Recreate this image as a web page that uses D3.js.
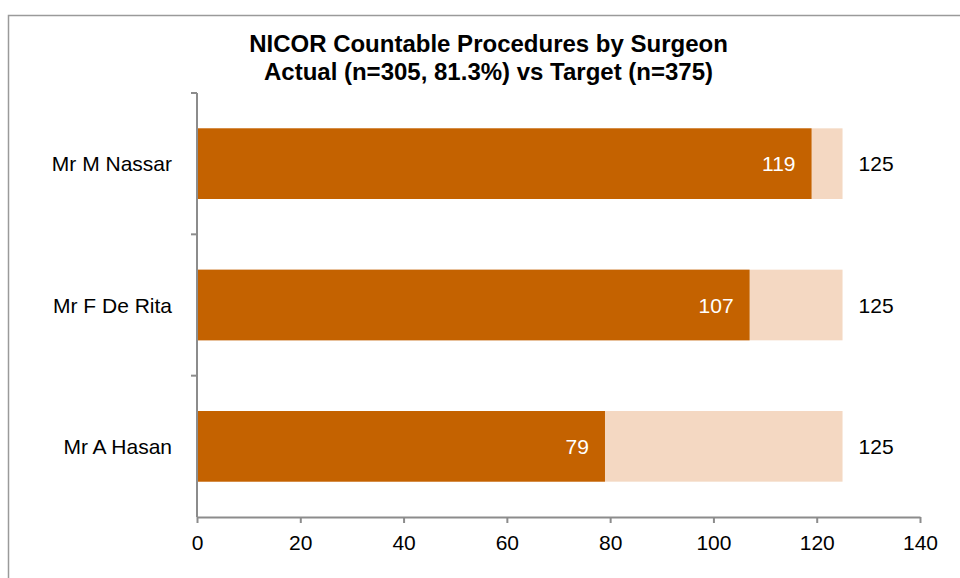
<!DOCTYPE html>
<html>
<head>
<meta charset="utf-8">
<script src="https://cdn.jsdelivr.net/npm/d3@7"></script>
<style>
  body { margin: 0; background: #fff; }
  svg { display: block; font-family: Arial, "Liberation Sans", sans-serif; }
</style>
</head>
<body>
<svg id="chart" width="960" height="578"></svg>
<script>
const surgeons = ["Mr M Nassar", "Mr F De Rita", "Mr A Hasan"];
const actual = [119, 107, 79];
const target = [125, 125, 125];
const xTicks = [0, 20, 40, 60, 80, 100, 120, 140];
const titleLines = ["NICOR Countable Procedures by Surgeon", "Actual (n=305, 81.3%) vs Target (n=375)"];

const svg = d3.select("#chart");
const axisColor = "#8c8c8c";

// outer frame
svg.append("rect").attr("x", 8.5).attr("y", 15.5).attr("width", 1000).attr("height", 700)
  .attr("fill", "none").attr("stroke", "#9a9a9a").attr("stroke-width", 1.5);

const plotLeft = 197, plotRight = 920, plotTop = 93, plotBottom = 517;
const x = d3.scaleLinear().domain([0, 140]).range([plotLeft, plotRight]);
const y = d3.scaleBand().domain(surgeons).range([plotTop, plotBottom]).paddingInner(0.5).paddingOuter(0.25);

// title
svg.append("g").selectAll("text").data(titleLines).join("text")
  .attr("x", 488.5).attr("y", (d, i) => 52 + i * 28)
  .attr("text-anchor", "middle").attr("font-weight", "bold").attr("font-size", 24)
  .attr("fill", "#000").text(d => d);

// target bars
svg.append("g").selectAll("rect").data(surgeons).join("rect")
  .attr("x", x(0)).attr("y", d => y(d))
  .attr("width", (d, i) => x(target[i]) - x(0)).attr("height", y.bandwidth())
  .attr("fill", "#F4D8C2");

// actual bars
svg.append("g").selectAll("rect").data(surgeons).join("rect")
  .attr("x", x(0)).attr("y", d => y(d))
  .attr("width", (d, i) => x(actual[i]) - x(0)).attr("height", y.bandwidth())
  .attr("fill", "#C46200");

// actual labels (inside end)
svg.append("g").selectAll("text").data(surgeons).join("text")
  .attr("x", (d, i) => x(actual[i]) - 16)
  .attr("y", d => y(d) + y.bandwidth() / 2).attr("dy", "0.36em")
  .attr("text-anchor", "end").attr("font-size", 21).attr("fill", "#fff")
  .text((d, i) => actual[i]);

// target labels (outside end)
svg.append("g").selectAll("text").data(surgeons).join("text")
  .attr("x", (d, i) => x(target[i]) + 16)
  .attr("y", d => y(d) + y.bandwidth() / 2).attr("dy", "0.36em")
  .attr("text-anchor", "start").attr("font-size", 21).attr("fill", "#000")
  .text((d, i) => target[i]);

// x axis
const xAxis = svg.append("g").attr("transform", `translate(0,${plotBottom})`)
  .call(d3.axisBottom(x).tickValues(xTicks).tickSize(6).tickSizeOuter(0).tickPadding(12));
xAxis.select(".domain").attr("stroke", axisColor).attr("stroke-width", 2);
xAxis.selectAll(".tick line").attr("stroke", axisColor).attr("stroke-width", 2);
xAxis.selectAll(".tick text").attr("font-size", 21).attr("fill", "#000")
  .attr("font-family", "Arial, 'Liberation Sans', sans-serif");

// y axis line with ticks at category boundaries
const yAxisG = svg.append("g");
yAxisG.append("line").attr("x1", plotLeft).attr("x2", plotLeft).attr("y1", plotTop).attr("y2", plotBottom)
  .attr("stroke", axisColor).attr("stroke-width", 2);
const boundaries = surgeons.map(d => y(d) - y.step() * y.paddingInner() / 2);
yAxisG.selectAll("line.tk").data(boundaries).join("line").attr("class", "tk")
  .attr("x1", plotLeft - 6).attr("x2", plotLeft).attr("y1", d => d).attr("y2", d => d)
  .attr("stroke", axisColor).attr("stroke-width", 2);

// category labels
svg.append("g").selectAll("text").data(surgeons).join("text")
  .attr("x", 172).attr("y", d => y(d) + y.bandwidth() / 2).attr("dy", "0.36em")
  .attr("text-anchor", "end").attr("font-size", 21).attr("fill", "#000")
  .text(d => d);
</script>
</body>
</html>
